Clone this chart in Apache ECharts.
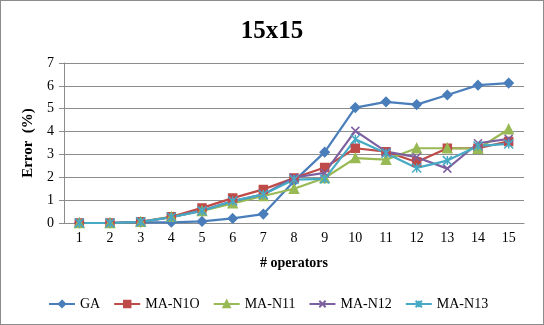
<!DOCTYPE html>
<html>
<head>
<meta charset="utf-8">
<script src="https://cdn.jsdelivr.net/npm/echarts@6/dist/echarts.min.js"></script>
<style>
  html, body { margin: 0; padding: 0; background: #fff; }
  #chart { width: 544px; height: 325px; box-sizing: border-box; border: 1px solid #8c8c8c; }
</style>
</head>
<body>
<div id="chart"></div>
<script>
var operators = ['1', '2', '3', '4', '5', '6', '7', '8', '9', '10', '11', '12', '13', '14', '15']
var ga = [0, 0, 0.03, 0.03, 0.07, 0.2, 0.39, 1.83, 3.1, 5.05, 5.3, 5.18, 5.6, 6.03, 6.12]
var maN10 = [0, 0, 0.05, 0.27, 0.66, 1.09, 1.47, 1.97, 2.43, 3.27, 3.12, 2.67, 3.27, 3.27, 3.57]
var maN11 = [0, 0, 0.05, 0.27, 0.53, 0.86, 1.18, 1.5, 1.97, 2.84, 2.77, 3.27, 3.27, 3.25, 4.1]
var maN12 = [0, 0, 0.05, 0.25, 0.55, 0.96, 1.25, 1.99, 2.19, 4.03, 3.12, 2.88, 2.38, 3.49, 3.68]
var maN13 = [0, 0, 0.05, 0.25, 0.53, 0.96, 1.25, 1.9, 1.93, 3.66, 3.05, 2.41, 2.73, 3.37, 3.46]

var crossPath = 'path://M0,0 L10,10 M10,0 L0,10'
var starPath = 'path://M0,0 L10,10 M10,0 L0,10 M5,0 L5,10'

var chart = echarts.init(document.getElementById('chart'))

function line(name, data, color, symbol, size) {
  return {
    name: name,
    type: 'line',
    data: data,
    symbol: symbol,
    symbolSize: size,
    itemStyle: { color: color, borderColor: color, borderWidth: 1.5 },
    lineStyle: { color: color, width: 2.2 },
    animation: false
  }
}

chart.setOption({
  textStyle: { fontFamily: 'Liberation Serif' },
  title: {
    text: '15x15',
    left: 'center',
    top: 13,
    textStyle: { fontFamily: 'Liberation Serif', fontSize: 25, fontWeight: 'bold', color: '#000' }
  },
  grid: { left: 63, right: 19, top: 62, bottom: 101 },
  legend: {
    left: 42,
    bottom: 8,
    itemGap: 13,
    itemWidth: 26,
    itemHeight: 8,
    textStyle: { fontFamily: 'Liberation Serif', fontSize: 14, color: '#000' },
    data: ['GA', 'MA-N1O', 'MA-N11', 'MA-N12', 'MA-N13']
  },
  xAxis: {
    type: 'category',
    data: operators,
    name: '# operators',
    nameLocation: 'middle',
    nameGap: 33,
    nameTextStyle: { fontFamily: 'Liberation Serif', fontSize: 14, fontWeight: 'bold', color: '#000' },
    axisLine: { lineStyle: { color: '#8c8c8c' } },
    axisTick: { lineStyle: { color: '#8c8c8c' }, length: 5 },
    axisLabel: { color: '#000', fontSize: 14, margin: 8 }
  },
  yAxis: {
    type: 'value',
    min: 0,
    max: 7,
    interval: 1,
    name: 'Error  (%)',
    nameLocation: 'middle',
    nameGap: 24,
    nameTextStyle: { fontFamily: 'Liberation Serif', fontSize: 15, fontWeight: 'bold', color: '#000' },
    axisLine: { show: true, lineStyle: { color: '#8c8c8c' } },
    axisTick: { show: true, lineStyle: { color: '#8c8c8c' }, length: 5 },
    axisLabel: { color: '#000', fontSize: 14, margin: 10 },
    splitLine: { lineStyle: { color: '#8c8c8c', width: 1 } }
  },
  series: [
    line('GA', ga, '#4a7ebb', 'diamond', 9),
    line('MA-N1O', maN10, '#be4b48', 'rect', 8),
    line('MA-N11', maN11, '#98b954', 'triangle', 9),
    line('MA-N12', maN12, '#7d60a0', crossPath, 8),
    line('MA-N13', maN13, '#46aac5', starPath, 9)
  ]
})
</script>
</body>
</html>
